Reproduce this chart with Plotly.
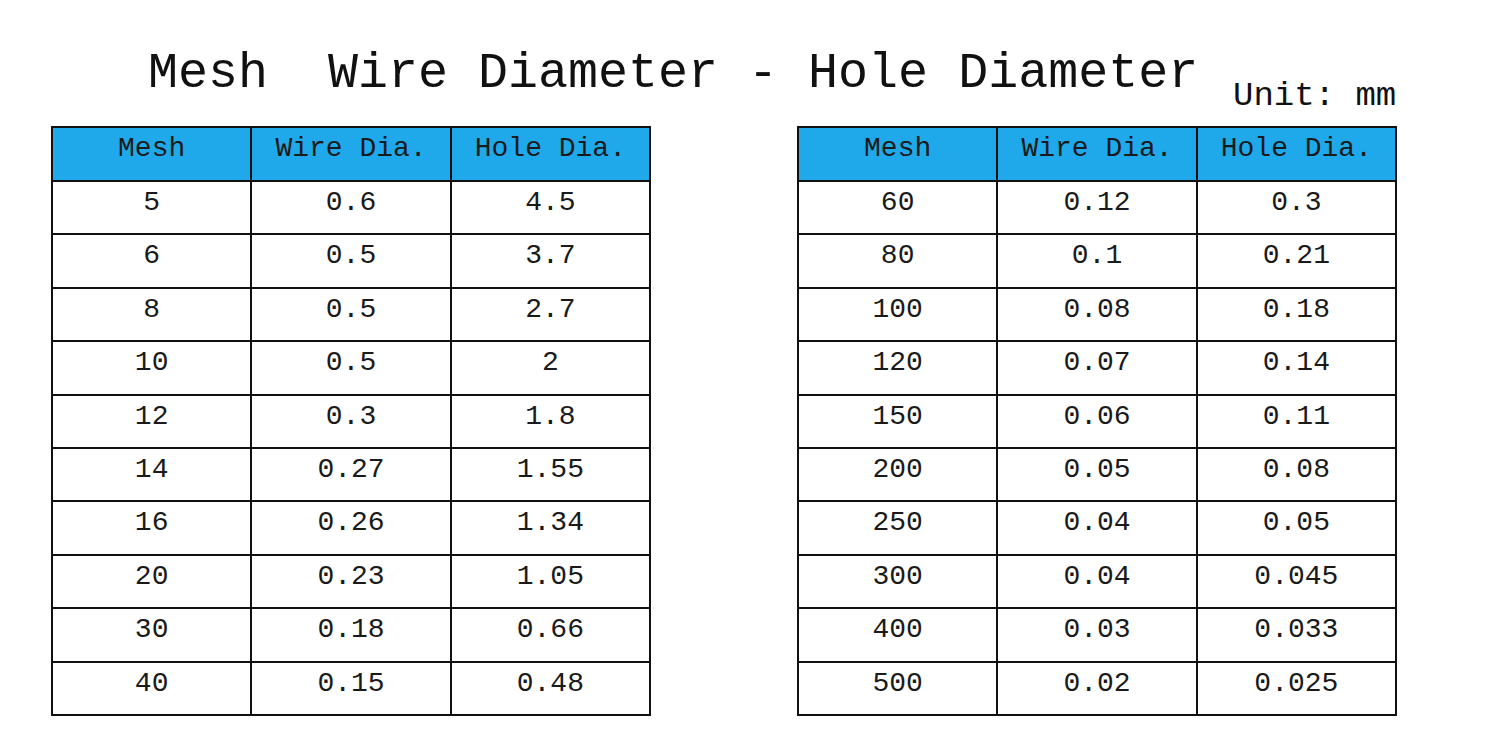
import plotly.graph_objects as go

headers = ["Mesh", "Wire Dia.", "Hole Dia."]
mesh_l = ["5", "6", "8", "10", "12", "14", "16", "20", "30", "40"]
wire_l = ["0.6", "0.5", "0.5", "0.5", "0.3", "0.27", "0.26", "0.23", "0.18", "0.15"]
hole_l = ["4.5", "3.7", "2.7", "2", "1.8", "1.55", "1.34", "1.05", "0.66", "0.48"]
mesh_r = ["60", "80", "100", "120", "150", "200", "250", "300", "400", "500"]
wire_r = ["0.12", "0.1", "0.08", "0.07", "0.06", "0.05", "0.04", "0.04", "0.03", "0.02"]
hole_r = ["0.3", "0.21", "0.18", "0.14", "0.11", "0.08", "0.05", "0.045", "0.033", "0.025"]

def tbl(cols, xd):
    return go.Table(
        domain=dict(x=xd, y=[0, 1 - 119 / 735]),
        columnwidth=[1, 1, 1],
        header=dict(values=headers, fill_color="#1fa9ea", height=54,
                    line=dict(color="#111", width=2),
                    font=dict(family="Liberation Mono", size=28, color="#1a1a1a"),
                    align="center"),
        cells=dict(values=cols, fill_color="white", height=53.4,
                   line=dict(color="#111", width=2),
                   font=dict(family="Liberation Mono", size=28, color="#1a1a1a"),
                   align="center"))

fig = go.Figure([
    tbl([mesh_l, wire_l, hole_l], [44 / 1500, 642 / 1500]),
    tbl([mesh_r, wire_r, hole_r], [790 / 1500, 1388 / 1500]),
])
fig.add_annotation(text="Mesh  Wire Diameter - Hole Diameter", x=138 / 1500, y=1 - 66 / 735,
                   xref="paper", yref="paper", xanchor="left", yanchor="middle", showarrow=False,
                   font=dict(family="Liberation Mono", size=50, color="#111"))
fig.add_annotation(text="Unit: mm", x=1390 / 1500, y=1 - 88 / 735,
                   xref="paper", yref="paper", xanchor="right", yanchor="middle", showarrow=False,
                   font=dict(family="Liberation Mono", size=34, color="#111"))
fig.update_layout(width=1500, height=735, margin=dict(l=0, r=0, t=0, b=0),
                  paper_bgcolor="white", showlegend=False)
fig.write_html("out.html")
